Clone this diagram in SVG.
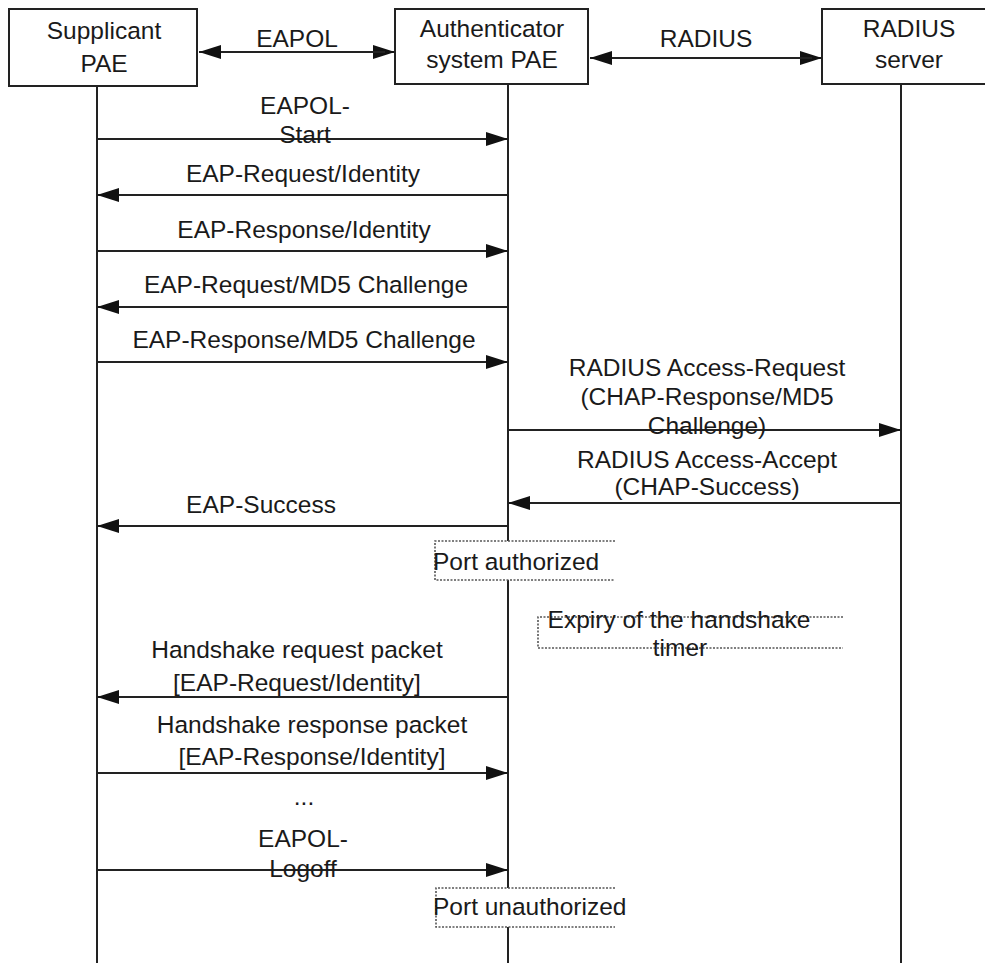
<svg xmlns="http://www.w3.org/2000/svg" width="985" height="963" viewBox="0 0 985 963">
<defs>
<marker id="ah" markerUnits="userSpaceOnUse" markerWidth="23" markerHeight="15" refX="22" refY="7" orient="auto" viewBox="0 0 23 15">
<path d="M0,0 L22,7 L0,14 z" fill="#111"/>
</marker>
<style>
text{font-family:"Liberation Sans",Arial,sans-serif;font-size:24.5px;fill:#1a1a1a;text-anchor:middle}
.box{fill:#fff;stroke:#222;stroke-width:2}
.life{stroke:#222;stroke-width:2;fill:none}
.msg{stroke:#222;stroke-width:2;fill:none;marker-end:url(#ah)}
.dot{fill:none;stroke:#555;stroke-width:1.6;stroke-dasharray:2 1.5}
.st{text-anchor:start}
</style>
</defs>
<rect width="985" height="963" fill="#fff"/>
<g id="lifelines">
<line class="life" x1="97" y1="86" x2="97" y2="963"/>
<line class="life" x1="508" y1="84" x2="508" y2="963"/>
<line class="life" x1="901" y1="84" x2="901" y2="963"/>
</g>
<g id="supplicant">
<rect class="box" x="9" y="9" width="188" height="77"/>
<text x="104" y="39">Supplicant</text>
<text x="104" y="72">PAE</text>
</g>
<g id="authenticator">
<rect class="box" x="395" y="9" width="193" height="75"/>
<text x="492" y="37">Authenticator</text>
<text x="492" y="68">system PAE</text>
</g>
<g id="radius-server">
<rect class="box" x="822" y="9" width="180" height="75"/>
<text x="909" y="37">RADIUS</text>
<text x="909" y="68">server</text>
</g>
<g id="connectors">
<line class="msg" x1="210" y1="52" x2="395" y2="52"/>
<line class="msg" x1="385" y1="52" x2="199" y2="52"/>
<line class="msg" x1="600" y1="58" x2="822" y2="58"/>
<line class="msg" x1="812" y1="58" x2="590" y2="58"/>
<line class="msg" x1="97" y1="139" x2="508" y2="139"/>
<line class="msg" x1="508" y1="195" x2="97" y2="195"/>
<line class="msg" x1="97" y1="251" x2="508" y2="251"/>
<line class="msg" x1="508" y1="307" x2="97" y2="307"/>
<line class="msg" x1="97" y1="362" x2="508" y2="362"/>
<line class="msg" x1="508" y1="430" x2="901" y2="430"/>
<line class="msg" x1="901" y1="503" x2="508" y2="503"/>
<line class="msg" x1="508" y1="526" x2="97" y2="526"/>
<line class="msg" x1="508" y1="697" x2="97" y2="697"/>
<line class="msg" x1="97" y1="773" x2="508" y2="773"/>
<line class="msg" x1="97" y1="870" x2="508" y2="870"/>
</g>
<g id="labels">
<text x="297" y="47">EAPOL</text>
<text x="706" y="47">RADIUS</text>
<text x="305" y="114">EAPOL-</text>
<text x="305" y="143">Start</text>
<text x="303" y="182">EAP-Request/Identity</text>
<text x="304" y="238">EAP-Response/Identity</text>
<text x="306" y="293">EAP-Request/MD5 Challenge</text>
<text x="304" y="348">EAP-Response/MD5 Challenge</text>
<text x="707" y="376">RADIUS Access-Request</text>
<text x="707" y="405">(CHAP-Response/MD5</text>
<text x="707" y="434">Challenge)</text>
<text x="707" y="468">RADIUS Access-Accept</text>
<text x="707" y="495">(CHAP-Success)</text>
<text x="261" y="513">EAP-Success</text>
<text x="297" y="658">Handshake request packet</text>
<text x="297" y="691">[EAP-Request/Identity]</text>
<text x="312" y="733">Handshake response packet</text>
<text x="312" y="765">[EAP-Response/Identity]</text>
<text x="304" y="805">...</text>
<text x="303" y="847">EAPOL-</text>
<text x="303" y="877">Logoff</text>
</g>
<g id="port-authorized">
<rect x="435" y="541" width="180" height="39" fill="#fff"/>
<path class="dot" d="M615,541 H435 V580 H615"/>
<text class="st" x="433" y="570">Port authorized</text>
</g>
<g id="expiry-timer">
<path class="dot" d="M843,617 H538 V648 H843"/>
<text x="679" y="628">Expiry of the handshake</text>
<text x="680" y="656">timer</text>
</g>
<g id="port-unauthorized">
<rect x="436" y="888" width="179" height="39" fill="#fff"/>
<path class="dot" d="M615,888 H436 V927 H615"/>
<text class="st" x="433" y="915">Port unauthorized</text>
</g>
</svg>
